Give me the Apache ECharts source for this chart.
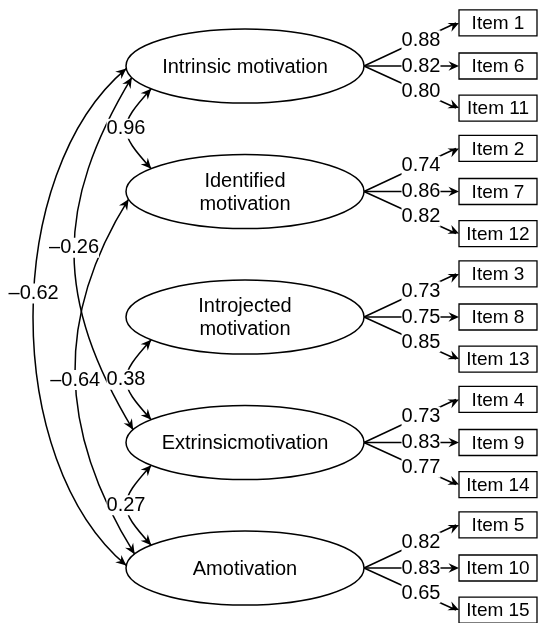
<!DOCTYPE html>
<html>
<head>
<meta charset="utf-8">
<script src="https://cdn.jsdelivr.net/npm/echarts@6/dist/echarts.min.js"></script>
<style>
  html, body { margin: 0; padding: 0; background: #fff; }
  #chart { width: 539px; height: 623px; }
</style>
</head>
<body>
<div id="chart"></div>
<script>
// latent factors, top to bottom
const factors = ['Intrinsic motivation', 'Identified\nmotivation', 'Introjected\nmotivation', 'Extrinsicmotivation', 'Amotivation']
// indicators of each factor
const items = [
  ['Item 1', 'Item 6', 'Item 11'],
  ['Item 2', 'Item 7', 'Item 12'],
  ['Item 3', 'Item 8', 'Item 13'],
  ['Item 4', 'Item 9', 'Item 14'],
  ['Item 5', 'Item 10', 'Item 15'],
]
// standardized loadings, same order as items
const loadings = [
  [0.88, 0.82, 0.80],
  [0.74, 0.86, 0.82],
  [0.73, 0.75, 0.85],
  [0.73, 0.83, 0.77],
  [0.82, 0.83, 0.65],
]
// factor correlations
const corrFrom = [0, 2, 3, 0, 1, 0]
const corrTo = [1, 3, 4, 3, 4, 4]
const corrValues = [0.96, 0.38, 0.27, -0.26, -0.64, -0.62]

// --- drawing layout (px / degrees) ---
const RX = 119, RY = 37
const BOX_W = 78, BOX_H = 26
const itemOffset = [-0.343, 0, 0.335]   // item rows relative to factor row
const LABEL_T = 0.6                      // where loading labels sit on the arrow
// a1/a2: angle on ellipse, bulge: how far left of ellipse edge, tilt: end angle, t: label spot
const arcShape = [
  { a1: 142, a2: 218, bulge: 0, tilt: 48, t: 0.5 },
  { a1: 142, a2: 218, bulge: 0, tilt: 48, t: 0.5 },
  { a1: 142, a2: 218, bulge: 0, tilt: 48, t: 0.5 },
  { a1: 162, a2: 200, bulge: 52, tilt: 59, t: 0.485 },
  { a1: 168, a2: 202, bulge: 51, tilt: 58, t: 0.52 },
  { a1: 176, a2: 184, bulge: 93, tilt: 40, t: 0.46 },
]

const FONT = '"Liberation Sans", Arial, sans-serif'
const INK = '#000'
const LW = 1.5

const fmt = v => (v < 0 ? '\u2013' : '') + Math.abs(v).toFixed(2)

const onEllipse = (c, deg) => {
  const a = deg * Math.PI / 180
  return [c[0] + RX * Math.cos(a), c[1] + RY * Math.sin(a)]
}

const arrowHead = (tip, from) => {
  let dx = tip[0] - from[0], dy = tip[1] - from[1]
  const len = Math.hypot(dx, dy) || 1
  dx /= len; dy /= len
  const L = 10.5, W = 4.8, N = 7
  return {
    type: 'polygon',
    shape: { points: [
      tip,
      [tip[0] - L * dx - W * dy, tip[1] - L * dy + W * dx],
      [tip[0] - N * dx, tip[1] - N * dy],
      [tip[0] - L * dx + W * dy, tip[1] - L * dy - W * dx],
    ] },
    style: { fill: INK },
  }
}

const numLabel = (text, x, y) => ({
  type: 'text',
  z2: 10,
  style: {
    text, x, y, align: 'center', verticalAlign: 'middle',
    font: '20px ' + FONT, fill: INK, backgroundColor: '#fff', padding: [0, 0],
  },
})

const bez = (p0, p1, p2, p3, t) => {
  const u = 1 - t
  const a = u * u * u, b = 3 * u * u * t, c = 3 * u * t * t, d = t * t * t
  return [a * p0[0] + b * p1[0] + c * p2[0] + d * p3[0], a * p0[1] + b * p1[1] + c * p2[1] + d * p3[1]]
}

const renderCorr = (params, api) => {
  const i = params.dataIndex
  const s = arcShape[i]
  const c1 = api.coord([0, corrFrom[i]])
  const c2 = api.coord([0, corrTo[i]])
  const A = onEllipse(c1, s.a1)
  const B = onEllipse(c2, s.a2)
  const xLeft = c1[0] - RX - s.bulge
  const cx = (xLeft - (A[0] + B[0]) / 8) * 4 / 3
  const tan = Math.tan(s.tilt * Math.PI / 180)
  const P1 = [cx, A[1] + (A[0] - cx) * tan]
  const P2 = [cx, B[1] - (B[0] - cx) * tan]
  const lp = bez(A, P1, P2, B, s.t)
  return {
    type: 'group',
    children: [
      {
        type: 'bezierCurve',
        shape: { x1: A[0], y1: A[1], cpx1: P1[0], cpy1: P1[1], cpx2: P2[0], cpy2: P2[1], x2: B[0], y2: B[1] },
        style: { stroke: INK, lineWidth: LW, fill: null },
      },
      arrowHead(A, P1),
      arrowHead(B, P2),
      numLabel(fmt(corrValues[i]), lp[0], lp[1]),
    ],
  }
}

const loadData = []
loadings.forEach((row, k) => row.forEach((v, j) => loadData.push([k, j, v])))

const renderLoading = (params, api) => {
  const k = api.value(0), j = api.value(1)
  const c = api.coord([0, k])
  const e = api.coord([1, k + itemOffset[j]])
  const start = [c[0] + RX, c[1]]
  const end = [e[0] - BOX_W / 2, e[1]]
  const lx = start[0] + (end[0] - start[0]) * LABEL_T
  const ly = start[1] + (end[1] - start[1]) * LABEL_T
  return {
    type: 'group',
    children: [
      { type: 'line', shape: { x1: start[0], y1: start[1], x2: end[0] - 3, y2: end[1] }, style: { stroke: INK, lineWidth: LW } },
      arrowHead(end, start),
      numLabel(fmt(api.value(2)), lx, ly),
    ],
  }
}

const renderFactor = (params, api) => {
  const c = api.coord([0, api.value(1)])
  return {
    type: 'group',
    children: [
      { type: 'ellipse', shape: { cx: c[0], cy: c[1], rx: RX, ry: RY }, style: { fill: '#fff', stroke: INK, lineWidth: LW } },
      {
        type: 'text',
        style: {
          text: factors[params.dataIndex], x: c[0], y: c[1] + 1, align: 'center', verticalAlign: 'middle',
          font: '20px ' + FONT, lineHeight: 23, fill: INK,
        },
      },
    ],
  }
}

const itemData = []
items.forEach((row, k) => row.forEach((name, j) => itemData.push([1, k + itemOffset[j]])))
const itemNames = items.flat()

const renderItemBox = (params, api) => {
  const c = api.coord([api.value(0), api.value(1)])
  return {
    type: 'group',
    children: [
      { type: 'rect', shape: { x: c[0] - BOX_W / 2, y: c[1] - BOX_H / 2, width: BOX_W, height: BOX_H }, style: { fill: '#fff', stroke: INK, lineWidth: 1.3 } },
      {
        type: 'text',
        style: { text: itemNames[params.dataIndex], x: c[0], y: c[1] + 1, align: 'center', verticalAlign: 'middle', font: '19px ' + FONT, fill: INK },
      },
    ],
  }
}

const chart = echarts.init(document.getElementById('chart'), null, { renderer: 'canvas' })
chart.setOption({
  backgroundColor: '#fff',
  animation: false,
  grid: { left: 245, right: 41, top: 66, bottom: 55 },
  xAxis: { type: 'value', min: 0, max: 1, show: false },
  yAxis: { type: 'value', min: 0, max: 4, inverse: true, show: false },
  series: [
    { type: 'custom', silent: true, data: corrFrom.map((f, i) => [0, f, corrTo[i]]), renderItem: renderCorr },
    { type: 'custom', silent: true, data: loadData, renderItem: renderLoading },
    { type: 'custom', silent: true, data: factors.map((f, i) => [0, i]), renderItem: renderFactor },
    { type: 'custom', silent: true, data: itemData, renderItem: renderItemBox },
  ],
})
</script>
</body>
</html>
